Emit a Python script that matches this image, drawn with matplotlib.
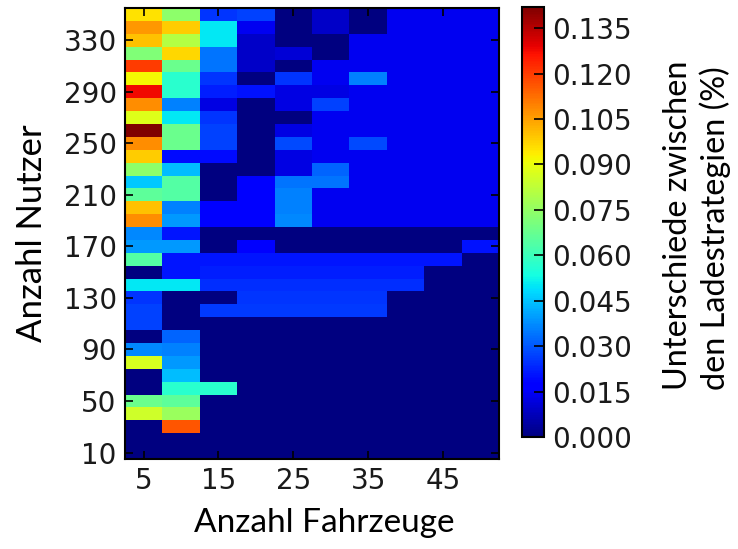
import numpy as np
import matplotlib
matplotlib.use("Agg")
import matplotlib.pyplot as plt

# Number of vehicles (column centres) and number of users (row centres)
fahrzeuge = [5, 10, 15, 20, 25, 30, 35, 40, 45, 50]
nutzer_top_down = [350, 340, 330, 320, 310, 300, 290, 280, 270, 260, 250, 240,
                   230, 220, 210, 200, 190, 180, 170, 160, 150, 140, 130, 120,
                   110, 100, 90, 80, 70, 60, 50, 40, 30, 20, 10]

B = 0.014
werte_top_down = [
    [0.095, 0.074, 0.025, 0.027, 0, 0.0094, 0, B, B, B],          # 350
    [0.106, 0.0985, 0.050, 0.014, 0, 0.0094, 0, B, B, B],         # 340
    [0.100, 0.0805, 0.050, 0.0094, 0, 0, B, B, B, B],             # 330
    [0.072, 0.0966, 0.034, 0.0094, 0.011, 0, B, B, B, B],         # 320
    [0.120, 0.068, 0.034, 0.0094, 0, B, B, B, B, B],              # 310
    [0.092, 0.057, 0.025, 0, 0.025, B, 0.0355, B, B, B],          # 300
    [0.128, 0.057, 0.022, 0.020, 0.0125, 0.0125, B, B, B, B],     # 290
    [0.108, 0.0355, 0.0125, 0, 0.0125, 0.027, B, B, B, B],        # 280
    [0.088, 0.050, 0.025, 0, 0, B, B, B, B, B],                   # 270
    [0.142, 0.068, 0.027, 0, 0.0125, B, B, B, B, B],              # 260
    [0.108, 0.068, 0.027, 0, 0.028, B, 0.028, B, B, B],           # 250
    [0.0985, 0.019, 0.019, 0, 0.0125, B, B, B, B, B],             # 240
    [0.074, 0.044, 0, 0, 0.0125, 0.032, B, B, B, B],              # 230
    [0.046, 0.064, 0, 0.017, 0.034, 0.034, B, B, B, B],           # 220
    [0.066, 0.064, 0, 0.017, 0.0355, B, B, B, B, B],              # 210
    [0.100, 0.0355, 0.017, 0.017, 0.0355, B, B, B, B, B],         # 200
    [0.108, 0.039, 0.017, 0.017, 0.037, B, B, B, B, B],           # 190
    [0.037, 0.021, 0, 0, 0, 0, 0, 0, 0, 0],                       # 180
    [0.039, 0.039, 0, 0.017, 0, 0, 0, 0, 0, 0.020],               # 170
    [0.064, 0.021, 0.021, 0.021, 0.021, 0.021, 0.021, 0.021, 0.021, 0],  # 160
    [0, 0.021, 0.022, 0.022, 0.022, 0.022, 0.022, 0.022, 0, 0],   # 150
    [0.050, 0.050, 0.024, 0.024, 0.024, 0.024, 0.024, 0.024, 0, 0],  # 140
    [0.025, 0, 0, 0.025, 0.025, 0.025, 0.025, 0, 0, 0],           # 130
    [0.027, 0, 0.026, 0.026, 0.026, 0.026, 0.026, 0, 0, 0],       # 120
    [0.027, 0, 0, 0, 0, 0, 0, 0, 0, 0],                           # 110
    [0, 0.032, 0, 0, 0, 0, 0, 0, 0, 0],                           # 100
    [0.037, 0.0355, 0, 0, 0, 0, 0, 0, 0, 0],                      # 90
    [0.087, 0.039, 0, 0, 0, 0, 0, 0, 0, 0],                       # 80
    [0, 0.044, 0, 0, 0, 0, 0, 0, 0, 0],                           # 70
    [0, 0.057, 0.057, 0, 0, 0, 0, 0, 0, 0],                       # 60
    [0.068, 0.066, 0, 0, 0, 0, 0, 0, 0, 0],                       # 50
    [0.085, 0.076, 0, 0, 0, 0, 0, 0, 0, 0],                       # 40
    [0, 0.116, 0, 0, 0, 0, 0, 0, 0, 0],                           # 30
    [0, 0, 0, 0, 0, 0, 0, 0, 0, 0],                               # 20
    [0, 0, 0, 0, 0, 0, 0, 0, 0, 0],                               # 10
]

x_ticks = [5, 15, 25, 35, 45]
y_ticks = [10, 50, 90, 130, 170, 210, 250, 290, 330]
cbar_ticks = [0.000, 0.015, 0.030, 0.045, 0.060, 0.075, 0.090, 0.105, 0.120, 0.135]

nutzer = np.array(nutzer_top_down[::-1])
werte = np.array(werte_top_down[::-1])

W, H = 738, 549
fig = plt.figure(figsize=(W / 100, H / 100), dpi=100)
ax = fig.add_axes([125 / W, 1 - 459 / H, 374 / W, 451 / H])
mesh = ax.pcolormesh(fahrzeuge, nutzer, werte, shading='nearest',
                     cmap='jet', vmin=0.0, vmax=0.142)
ax.set_xlim(2.5, 52.5)
ax.set_ylim(5, 355)
ax.set_xticks(x_ticks)
ax.set_yticks(y_ticks)
ax.tick_params(direction='in', length=6, width=1.2, top=True, right=True,
               labelsize=20, pad=6, colors='black', labelcolor='#1a1a1a')
for s in ax.spines.values():
    s.set_linewidth(1.5)

lab_font = ['Lato', 'DejaVu Sans']
ax.set_xlabel('Anzahl Fahrzeuge', fontsize=24, family=lab_font)
ax.xaxis.set_label_coords(0.532, -0.108)
ax.set_ylabel('Anzahl Nutzer', fontsize=25, family=lab_font, labelpad=11)

cax = fig.add_axes([522 / W, 1 - 437 / H, 21.5 / W, 430 / H])
cb = fig.colorbar(mesh, cax=cax, ticks=cbar_ticks)
cb.ax.set_yticklabels([f'{t:.3f}' for t in cbar_ticks])
cb.ax.tick_params(direction='in', length=7, width=1.2, labelsize=20, pad=6,
                  labelcolor='#1a1a1a')
cb.outline.set_linewidth(1.5)

fig.text(697 / W, 1 - 390 / H, 'Unterschiede zwischen\nden Ladestrategien (%)',
         rotation=90, ha='center', va='bottom', multialignment='left',
         fontsize=23.3, family=lab_font, linespacing=1.25)

fig.savefig('out.png', dpi=100)
